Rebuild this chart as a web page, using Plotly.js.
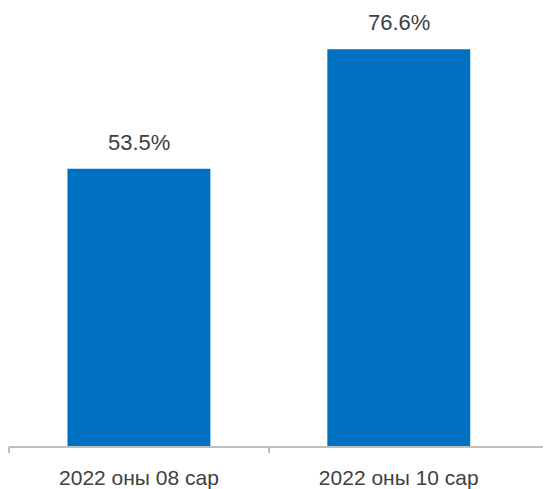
<!DOCTYPE html>
<html>
<head>
<meta charset="utf-8">
<script src="https://cdn.plot.ly/plotly-3.0.1.min.js"></script>
<style>html,body{margin:0;padding:0;background:#fff;}#chart{width:544px;height:489px;}</style>
</head>
<body>
<div id="chart"></div>
<script>
const categories = ["2022 оны 08 сар", "2022 оны 10 сар"];
const values = [53.5, 76.6];
const valueLabels = ["53.5%", "76.6%"];

const positions = categories.map((c, i) => i);
const FONT = "'Liberation Sans', Arial, sans-serif";

const data = [{
  type: "bar",
  x: positions,
  y: values,
  width: 0.55,
  marker: {color: "#0070C0"},
  hoverinfo: "skip"
}, {
  type: "scatter", x: [-0.5, 0.5], y: [0, 0], xaxis: "x2", mode: "none", hoverinfo: "skip", showlegend: false
}];

const annotations = positions.map((p, i) => ({
  x: p, y: values[i], xref: "x", yref: "y",
  text: valueLabels[i], showarrow: false,
  xanchor: "center", yanchor: "bottom", yshift: 12,
  font: {family: FONT, size: 22, color: "#404040"}
}));

const layout = {
  width: 544, height: 489,
  margin: {l: 9, r: 1, t: 0, b: 43},
  paper_bgcolor: "#ffffff", plot_bgcolor: "#ffffff",
  showlegend: false,
  annotations: annotations,
  xaxis: {
    type: "linear", range: [-0.5, 1.555],
    tickvals: positions, ticktext: categories,
    ticks: "", showgrid: false, zeroline: false,
    showline: true, linecolor: "#bfbfbf", linewidth: 2,
    ticklabelstandoff: 12,
    tickfont: {family: FONT, size: 21, color: "#404040"},
    fixedrange: true
  },
  xaxis2: {
    type: "linear", range: [-0.5, 1.555], overlaying: "x",
    tickvals: [-0.5, 0.5], ticks: "outside", ticklen: 6, tickwidth: 2, tickcolor: "#bfbfbf",
    showticklabels: false, showgrid: false, zeroline: false, showline: false, fixedrange: true
  },
  yaxis: {
    range: [0, 86.1], visible: false, showgrid: false, zeroline: false, fixedrange: true
  }
};

Plotly.newPlot("chart", data, layout, {displayModeBar: false, staticPlot: true});
</script>
</body>
</html>
